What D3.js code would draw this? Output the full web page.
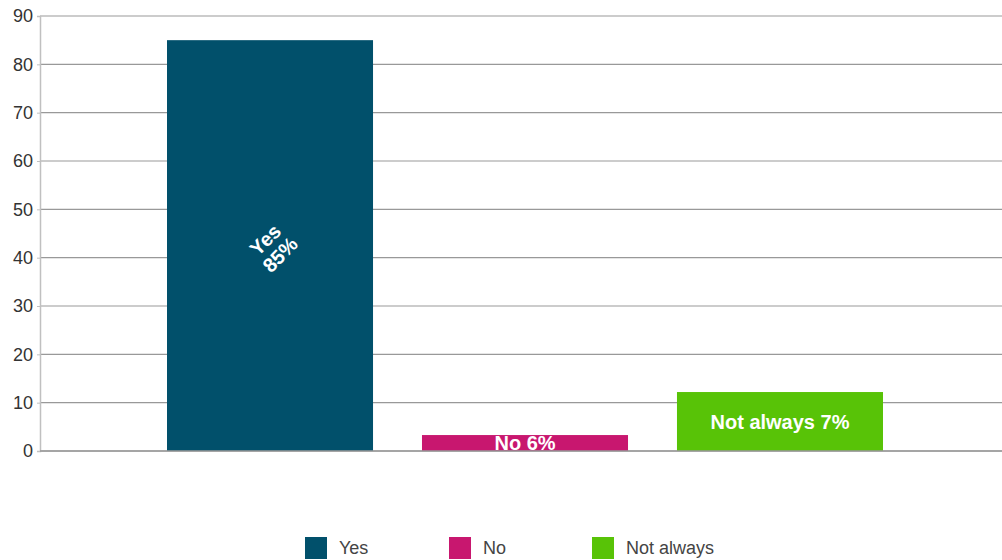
<!DOCTYPE html>
<html>
  <head>
    <meta charset="utf-8" />
    <title>Yes / No / Not always</title>
    <style>
      body { margin: 0; background: #fff; }
      svg { display: block; font-family: "Liberation Sans", Arial, sans-serif; }
    </style>
  </head>
  <body>
    <div id="chart"></div>
    <script src="https://d3js.org/d3.v7.min.js"></script>
    <script>
      // data
      var series = ["Yes", "No", "Not always"];
      var values = [85, 3.3, 12.2];
      var labels = ["Yes 85%", "No 6%", "Not always 7%"];
      var colors = ["#01506b", "#c8176f", "#58c307"];
      var yTicks = [0, 10, 20, 30, 40, 50, 60, 70, 80, 90];

      var width = 1002, height = 560;
      // plot box (window.top is reserved, so use other names)
      var plotLeft = 40, plotRight = 1002, plotTop = 16, plotBottom = 451;

      var svg = d3.select("#chart").append("svg")
        .attr("width", width)
        .attr("height", height);

      var y = d3.scaleLinear().domain([0, 90]).range([plotBottom, plotTop]);
      var x = d3.scaleBand().domain(series).range([167, 883])
        .paddingInner(0.192).paddingOuter(0);

      // gridlines
      svg.append("g")
        .selectAll("line")
        .data(yTicks)
        .enter().append("line")
        .attr("x1", plotLeft).attr("x2", plotRight)
        .attr("y1", d => y(d)).attr("y2", d => y(d))
        .style("stroke", "#999")
        .style("stroke-width", 1.2);

      // y axis
      var yAxis = d3.axisLeft(y).tickValues(yTicks).tickSize(3).tickPadding(4);
      var ga = svg.append("g").attr("transform", "translate(" + plotLeft + ",0)").call(yAxis);
      ga.select(".domain").style("stroke", "#c0c0c0").style("stroke-width", 1.5);
      ga.selectAll(".tick line").style("stroke", "#c0c0c0");
      ga.selectAll(".tick text")
        .style("font-size", "18px")
        .style("fill", "#333")
        .style("font-family", "'Liberation Sans', Arial, sans-serif");

      // bars
      svg.append("g")
        .selectAll("rect")
        .data(series)
        .enter().append("rect")
        .attr("x", d => x(d))
        .attr("width", x.bandwidth())
        .attr("y", (d, i) => y(values[i]))
        .attr("height", (d, i) => y(0) - y(values[i]))
        .style("fill", (d, i) => colors[i]);

      // zero line on top
      svg.append("line")
        .attr("x1", plotLeft).attr("x2", plotRight)
        .attr("y1", y(0)).attr("y2", y(0))
        .style("stroke", "#999")
        .style("stroke-width", 1.5);

      // bar labels
      var lab = svg.append("g")
        .style("fill", "#fff")
        .style("font-weight", "bold")
        .style("font-size", "20px")
        .attr("text-anchor", "middle");

      // first one is rotated and split in two lines
      var cx0 = x(series[0]) + x.bandwidth() / 2;
      var cy0 = (y(values[0]) + y(0)) / 2;
      var t0 = lab.append("text")
        .attr("transform", "translate(" + (cx0 + 3) + "," + (cy0 + 2) + ") rotate(-45)");
      var parts = labels[0].split(" ");
      t0.append("tspan").attr("x", 0).attr("dy", "-0.2em").text(parts[0]);
      t0.append("tspan").attr("x", 0).attr("dy", "1.05em").text(parts[1]);

      lab.selectAll("text.flat")
        .data(series.slice(1))
        .enter().append("text")
        .attr("class", "flat")
        .attr("x", d => x(d) + x.bandwidth() / 2)
        .attr("y", (d, i) => (y(values[i + 1]) + y(0)) / 2)
        .attr("dy", "0.36em")
        .text((d, i) => labels[i + 1]);

      // legend
      var legX = [305, 449, 592];
      var leg = svg.append("g")
        .selectAll("g")
        .data(series)
        .enter().append("g")
        .attr("transform", (d, i) => "translate(" + legX[i] + ",537)");
      leg.append("rect")
        .attr("width", 22).attr("height", 22)
        .style("fill", (d, i) => colors[i]);
      leg.append("text")
        .attr("x", 34).attr("y", 11).attr("dy", "0.36em")
        .style("font-size", "18px")
        .style("fill", "#444")
        .text(d => d);
    </script>
  </body>
</html>
